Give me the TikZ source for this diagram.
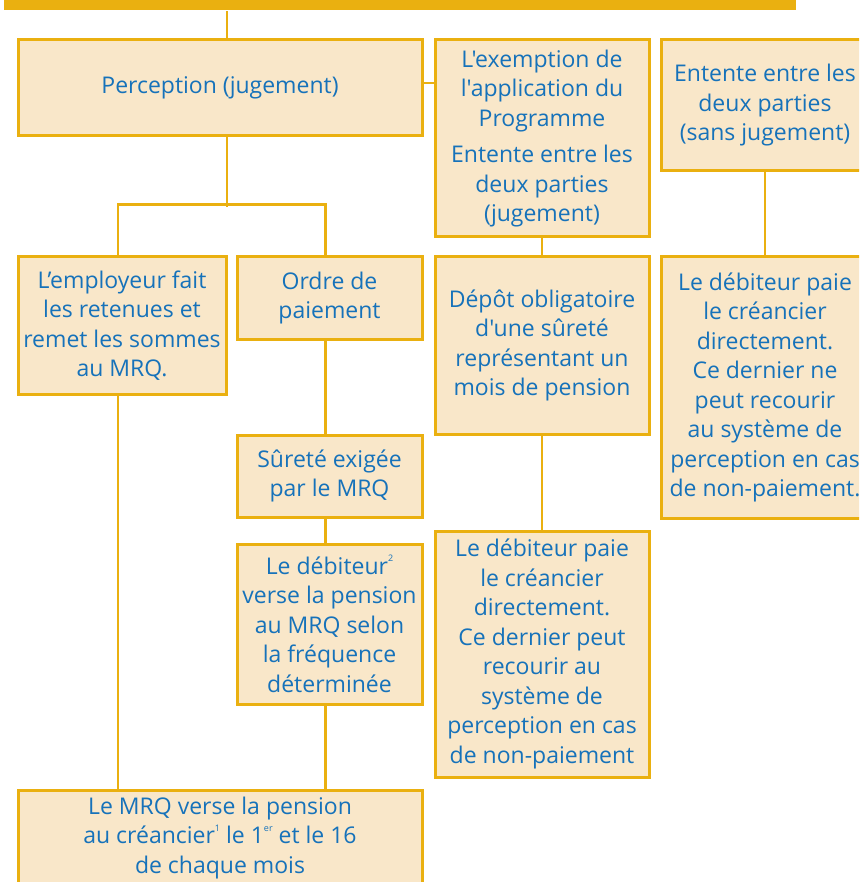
\documentclass[tikz,border=0pt]{standalone}
\usepackage{fontspec}
\setmainfont{Open Sans}[Ligatures=TeXOff]
\usetikzlibrary{positioning}
\definecolor{gold}{RGB}{234,176,16}
\definecolor{sand}{RGB}{249,231,201}
\definecolor{ink}{RGB}{22,114,186}
\newcommand{\expo}[1]{\raisebox{0.55em}{\fontsize{9}{9}\selectfont #1}}

\begin{document}
\begin{tikzpicture}[x=1pt,y=-1pt,gold,line width=2.5pt]
\tikzstyle{box}=[fill=sand,draw=gold,line width=3pt,shape=rectangle,text=ink,align=center,inner sep=0pt,font=\fontsize{23}{29.5}\selectfont]

\useasboundingbox (0,0) rectangle (859,882);
\clip (0,0) rectangle (859,882);

\node[fill=gold,minimum width=792,minimum height=14,inner sep=0pt] (T) at (400,3) {};

\node[box,minimum width=404,minimum height=96]  (A) at (220,88)    {Perception (jugement)};
\node[box,minimum width=214,minimum height=197] (B) at (542,138.5) {L'exemption de\\l'application du\\Programme\\[7pt]Entente entre les\\deux parties\\(jugement)};
\node[box,minimum width=208,minimum height=131] (C) at (765,105.5) {Entente entre les\\deux parties\\(sans jugement)};
\node[box,minimum width=208,minimum height=137] (D) at (122,325.5) {L’employeur fait\\les retenues et\\remet les sommes\\au MRQ.};
\node[box,minimum width=185,minimum height=82]  (E) at (329.5,298) {Ordre de\\paiement};
\node[box,minimum width=185,minimum height=82]  (F) at (329.5,476) {Sûreté exigée\\par le MRQ};
\node[box,minimum width=185,minimum height=160] (G) at (329.5,624) {Le débiteur\expo{2}\\verse la pension\\au MRQ selon\\la fréquence\\déterminée};
\node[box,minimum width=404,minimum height=96]  (H) at (220,838)   {Le MRQ verse la pension\\au créancier\expo{1} le 1\expo{er} et le 16\\de chaque mois};
\node[box,minimum width=214,minimum height=177] (I) at (542,345.5) {Dépôt obligatoire\\d'une sûreté\\représentant un\\mois de pension};
\node[box,minimum width=214,minimum height=246] (J) at (542,654)   {Le débiteur paie\\le créancier\\directement.\\Ce dernier peut\\recourir au\\système de\\perception en cas\\de non-paiement};
\node[box,minimum width=208,minimum height=261] (K) at (765,387.5) {Le débiteur paie\\le créancier\\directement.\\Ce dernier ne\\peut recourir\\au système de\\perception en cas\\de non-paiement.};

\draw ([xshift=7pt]A.north) -- ([xshift=7pt]A.north |- T.south);
\draw ([yshift=5pt]A.east) -- ([yshift=5pt]A.east -| B.west);
\draw ([xshift=7pt]A.south) -- ++(0,70);
\draw ([xshift=-4pt]D.north) -- ++(0,-51) -| ([xshift=-4pt]E.north);
\draw ([xshift=-4pt]E.south) -- ([xshift=-4pt]F.north);
\draw ([xshift=-4pt]F.south) -- ([xshift=-4pt]G.north);
\draw ([xshift=-4pt]G.south) -- ([xshift=-4pt]G.south |- H.north);
\draw ([xshift=-4pt]D.south) -- ([xshift=-4pt]D.south |- H.north);

\path
(B) edge (I)
(I) edge (J)
(C) edge (K)
;
\end{tikzpicture}
\end{document}
